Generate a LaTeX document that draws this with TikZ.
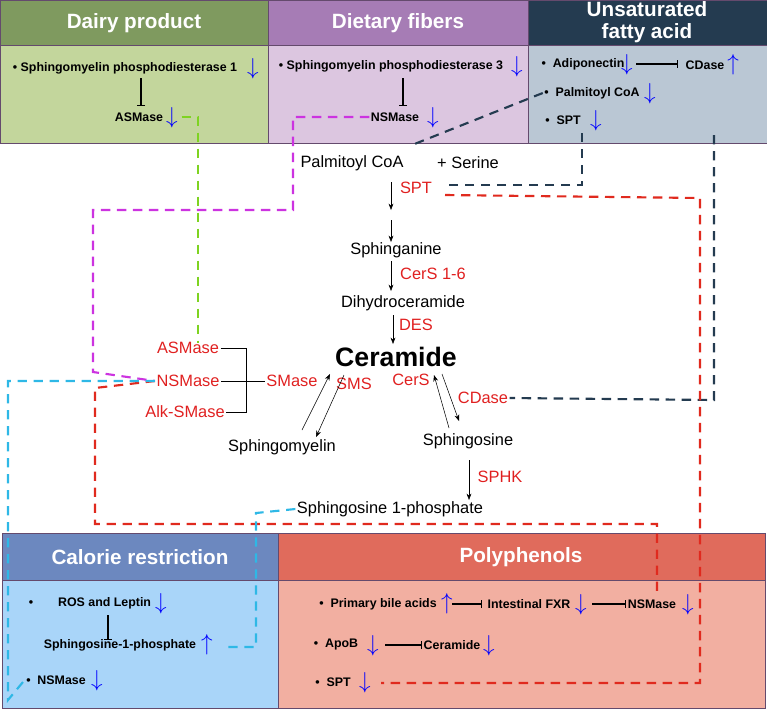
\documentclass[tikz,border=0pt]{standalone}
\usepackage{fontspec}
\setmainfont{Liberation Sans}
\usetikzlibrary{arrows.meta,positioning}
\definecolor{dairyH}{HTML}{7F9A5F}
\definecolor{dairyB}{HTML}{C3D69C}
\definecolor{fiberH}{HTML}{A67CB5}
\definecolor{fiberB}{HTML}{DCC6E0}
\definecolor{fatH}{HTML}{243B50}
\definecolor{fatB}{HTML}{BAC7D4}
\definecolor{calH}{HTML}{6C88BF}
\definecolor{calB}{HTML}{A9D5F9}
\definecolor{polyH}{HTML}{E06B5C}
\definecolor{polyB}{HTML}{F2AFA1}
\definecolor{enz}{HTML}{E02020}
\definecolor{lgreen}{HTML}{7ED321}
\definecolor{magen}{HTML}{CC33E0}
\definecolor{cyanl}{HTML}{2EB8E6}
\definecolor{redd}{HTML}{E02A1E}
\tikzset{
  title/.style={text=white,font=\bfseries\fontsize{15.5}{17}\selectfont,align=center},
  item/.style={font=\bfseries\fontsize{9.3}{10}\selectfont,inner sep=1pt},
  met/.style={font=\fontsize{12.3}{13}\selectfont,inner sep=1pt},
  en/.style={met,text=enz},
  dn/.style={text=blue,font=\fontsize{17}{17}\selectfont,inner sep=0pt},
  inh/.style={-{Bar[width=6pt]},thick},
  dsh/.style={dashed,dash pattern=on 7pt off 5pt,line width=1.6pt},
}
\newcommand{\dwn}{$\downarrow$}
\newcommand{\upa}{$\uparrow$}
\begin{document}
\begin{tikzpicture}[x=0.75pt,y=-0.75pt,>=Stealth]
   \useasboundingbox (0,0) rectangle (767,711);
   % panels
   \begin{scope}[draw=fiberH!60!black,line width=0.6pt]
    \filldraw[fill=dairyH] (0,0) rectangle (268,45);
    \filldraw[fill=dairyB] (0,45) rectangle (268,143);
    \filldraw[fill=fiberH] (268,0) rectangle (528,45);
    \filldraw[fill=fiberB] (268,45) rectangle (528,143);
    \filldraw[fill=fatH] (528,0) rectangle (767,45);
    \filldraw[fill=fatB] (528,45) rectangle (767,143);
    \filldraw[fill=calH] (2,533) rectangle (278,580);
    \filldraw[fill=calB] (2,580) rectangle (278,708);
    \filldraw[fill=polyH] (278,533) rectangle (765,580);
    \filldraw[fill=polyB] (278,580) rectangle (765,708);
   \end{scope}
   \node[title] (tdairy) at (134,23) {Dairy product};
   \node[title] (tfiber) at (398,23) {Dietary fibers};
   \node[title] (tfat) at (647,22) {Unsaturated\\fatty acid};
   \node[title] (tcal) at (140,557) {Calorie restriction};
   \node[title] (tpoly) at (521,557) {Polyphenols};
   % panel items
   \begin{scope}[every node/.style={item}]
    \node (smpd1) at (125,68) {• Sphingomyelin phosphodiesterase 1};
    \node (asm1) at (139,117) {ASMase};
    \node (smpd3) at (391,66) {• Sphingomyelin phosphodiesterase 3};
    \node (nsm1) at (395,117) {NSMase};
    \node (adipo) at (583,64) {•\ \ Adiponectin};
    \node (cdase1) at (705,65) {CDase};
    \node (palm1) at (592,93) {•\ \ Palmitoyl CoA};
    \node (spt1) at (563,120) {•\ \ SPT};
    \node (ros) at (90,603) {•\qquad ROS and Leptin};
    \node (s1p2) at (120,645) {Sphingosine-1-phosphate};
    \node (nsm2) at (56,680) {•\ \ NSMase};
    \node (bile) at (378,604) {•\ \ Primary bile acids};
    \node (fxr) at (529,604) {Intestinal FXR};
    \node (nsm3) at (652,604) {NSMase};
    \node (apob) at (336,645) {•\ \ ApoB};
    \node (cer2) at (452,645) {Ceramide};
    \node (spt3) at (333,682) {•\ \ SPT};
   \end{scope}
   \begin{scope}[every node/.style={dn}]
    \node at (253,69) {\dwn};   \node at (172,118) {\dwn};
    \node at (517,67) {\dwn};   \node at (433,118) {\dwn};
    \node at (627,65) {\dwn};   \node at (733,65) {\upa};
    \node at (650,94) {\dwn};   \node at (596,121) {\dwn};
    \node at (161,604) {\dwn};  \node at (207,645) {\upa};
    \node at (97,681) {\dwn};   \node at (447,604) {\upa};
    \node at (581,605) {\dwn};  \node at (688,605) {\dwn};
    \node at (373,646) {\dwn};  \node at (489,646) {\dwn};
    \node at (365,683) {\dwn};
   \end{scope}
   \draw[inh] (141,78) -- (141,106);
   \draw[inh] (403,78) -- (403,106);
   \draw[inh] (636,64) -- (678,64);
   \draw[inh] (108,615) -- (108,640);
   \draw[inh] (452,604) -- (482,604);
   \draw[inh] (592,604) -- (626,604);
   \draw[inh] (385,645) -- (422,645);
   % pathway
   \node[met] (palm) at (352,163) {Palmitoyl CoA};
   \node[met] (ser) at (468,163) {+ Serine};
   \node[en] (spt) at (416,188) {SPT};
   \node[met] (sphn) at (396,250) {Sphinganine};
   \node[en] (cers16) at (433,274) {CerS 1-6};
   \node[met] (dihy) at (403,303) {Dihydroceramide};
   \node[en] (des) at (416,325) {DES};
   \node[font=\bfseries\fontsize{20}{21}\selectfont] (cer) at (396,357) {Ceramide};
   \node[en] (asm) at (188,348) {ASMase};
   \node[en] (nsm) at (188,381) {NSMase};
   \node[en] (alk) at (185,412) {Alk-SMase};
   \node[en] (smase) at (292,381) {SMase};
   \node[en] (sms) at (354,384) {SMS};
   \node[met] (sphm) at (282,447) {Sphingomyelin};
   \node[en] (cers) at (411,380) {CerS};
   \node[en] (cdase) at (483,398) {CDase};
   \node[met] (sphs) at (468,441) {Sphingosine};
   \node[en] (sphk) at (500,477) {SPHK};
   \node[met] (s1p) at (390,509) {Sphingosine 1-phosphate};
   \coordinate (a1) at (391,182); \coordinate (a2) at (391,210);
   \draw[->] (a1) -- (a2);
   \draw[->] (391,220) -- (391,242);
   \draw[->] (391,261) -- (391,291);
   \draw[->] (393,315) -- (393,344);
   \draw[->] (302,430) -- (330,374);
   \draw[->] (344,375) -- (316,437);
   \draw[->] (449,428) -- (434,375);
   \draw[->] (442,374) -- (459,421);
   \draw[->] (469,460) -- (469,500);
   \draw (asm.east) -- (246,348) -- (246,412) -- (alk.east);
   \draw (nsm.east) -- (smase.west);
   % dashed links
   \draw[dsh,lgreen] (asm1.east)++(17,0) -- (198,117) -- (198,343);
   \draw[dsh,magen] (nsm1.west) -- (293,117) -- (293,210) -- (93,210) -- (93,372) -- (nsm.west);
   \draw[dsh,fatH] (palm1.west) -- (412,145);
   \draw[dsh,fatH] (582,133) -- (582,185) -- (444,185);
   \draw[dsh,fatH] (714,135) -- (714,400) -- (cdase.east);
   \draw[dsh,redd] (445,195) -- (700,198) -- (700,683) -- (381,683);
   \draw[dsh,redd] (nsm.west) -- (95,388) -- (95,524) -- (657,524) -- (657,592);
   \draw[dsh,cyanl] (nsm.west) -- (8,381) -- (8,700) -- (nsm2.west);
   \draw[dsh,cyanl] (s1p.west) -- (256,513) -- (256,647) -- (222,647);
\end{tikzpicture}
\end{document}
